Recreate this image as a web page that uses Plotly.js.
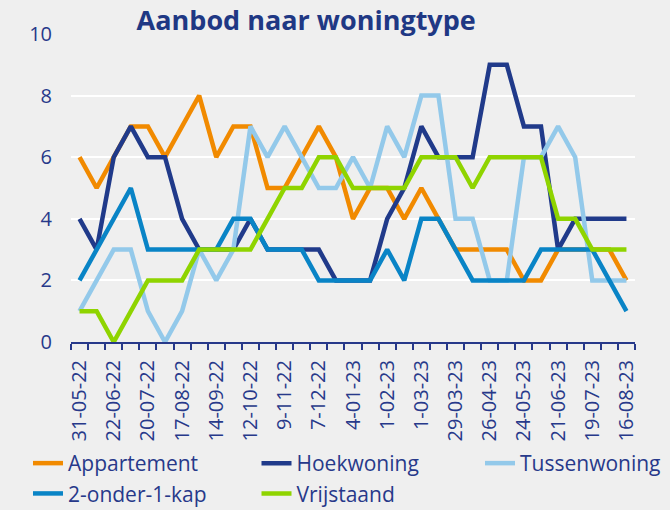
<!DOCTYPE html>
<html>
<head>
<meta charset="utf-8">
<script src="https://cdn.plot.ly/plotly-3.0.1.min.js"></script>
<style>
html,body{margin:0;padding:0;background:#efefef;}
#chart{width:670px;height:510px;}
</style>
</head>
<body>
<div id="chart"></div>
<script>
const dates = ["31-05-22","8-06-22","22-06-22","6-07-22","20-07-22","3-08-22","17-08-22","31-08-22",
  "14-09-22","28-09-22","12-10-22","26-10-22","9-11-22","23-11-22","7-12-22","21-12-22",
  "4-01-23","18-01-23","1-02-23","15-02-23","1-03-23","15-03-23","29-03-23","12-04-23",
  "26-04-23","10-05-23","24-05-23","7-06-23","21-06-23","5-07-23","19-07-23","2-08-23","16-08-23"];
const tickLabels = ["31-05-22","","22-06-22","","20-07-22","","17-08-22","","14-09-22","","12-10-22","",
  "9-11-22","","7-12-22","","4-01-23","","1-02-23","","1-03-23","","29-03-23","","26-04-23","",
  "24-05-23","","21-06-23","","19-07-23","","16-08-23"];

const appartement = [6,5,6,7,7,6,7,8,6,7,7,5,5,6,7,6,4,5,5,4,5,4,3,3,3,3,2,2,3,3,3,3,2];
const hoekwoning  = [4,3,6,7,6,6,4,3,3,3,4,3,3,3,3,2,2,2,4,5,7,6,6,6,9,9,7,7,3,4,4,4,4];
const tussenwoning= [1,2,3,3,1,0,1,3,2,3,7,6,7,6,5,5,6,5,7,6,8,8,4,4,2,2,6,6,7,6,2,2,2];
const onder1kap   = [2,3,4,5,3,3,3,3,3,4,4,3,3,3,2,2,2,2,3,2,4,4,3,2,2,2,2,3,3,3,3,2,1];
const vrijstaand  = [1,1,0,1,2,2,2,3,3,3,3,4,5,5,6,6,5,5,5,5,6,6,6,5,6,6,6,6,4,4,3,3,3];

const seriesNames = ["Appartement","Hoekwoning","Tussenwoning","2-onder-1-kap","Vrijstaand"];
const seriesValues = [appartement, hoekwoning, tussenwoning, onder1kap, vrijstaand];
const seriesColors = ["#f18a00","#203a8a","#93c9ea","#0984c6","#8fd400"];
const legendOf = ["legend","legend2","legend3","legend","legend2"];

const FONT = "'Open Sans', sans-serif";
const TXT = "#27398a";

const traces = seriesNames.map((n,i)=>({
  type:"scatter", mode:"lines", name:n, x:dates, y:seriesValues[i],
  legend:legendOf[i], legendgroup:"g"+i,
  line:{color:seriesColors[i], width:4.5}
}));

function legendAt(px){
  return {orientation:"v", xref:"container", yref:"container", x:px/670, xanchor:"left",
          y:0.1314, yanchor:"top", font:{size:21, color:TXT, family:FONT},
          bgcolor:"rgba(0,0,0,0)", traceorder:"normal", tracegroupgap:4};
}

const layout = {
  width:670, height:510,
  paper_bgcolor:"#efefef", plot_bgcolor:"#efefef",
  margin:{l:71, r:35, t:34, b:168, pad:0, autoexpand:false},
  font:{family:FONT, color:TXT},
  title:{text:"<b>Aanbod naar woningtype</b>", font:{size:27, color:"#1f3884", family:FONT},
         x:0.457, xanchor:"center", xref:"container", y:0.96, yanchor:"middle", yref:"container"},
  xaxis:{type:"category", range:[-0.5,32.5], tickmode:"array", tickvals:dates, ticktext:tickLabels,
         tickson:"boundaries", ticks:"outside", ticklen:6, tickwidth:2, tickcolor:TXT,
         showline:true, linecolor:TXT, linewidth:2, showgrid:false, zeroline:false, automargin:false,
         ticklabelstandoff:8,
         tickangle:-90, tickfont:{size:20, color:TXT, family:FONT}},
  yaxis:{range:[0,10], dtick:2, tick0:0, showgrid:true, gridcolor:"#ffffff", gridwidth:2,
         zeroline:false, showline:false, ticks:"", ticklabelstandoff:18, automargin:false,
         tickfont:{size:20, color:TXT, family:FONT}},
  showlegend:true,
  legend:legendAt(28),
  legend2:legendAt(256.5),
  legend3:legendAt(480)
};

Plotly.newPlot("chart", traces, layout, {displayModeBar:false, staticPlot:true});
</script>
</body>
</html>
